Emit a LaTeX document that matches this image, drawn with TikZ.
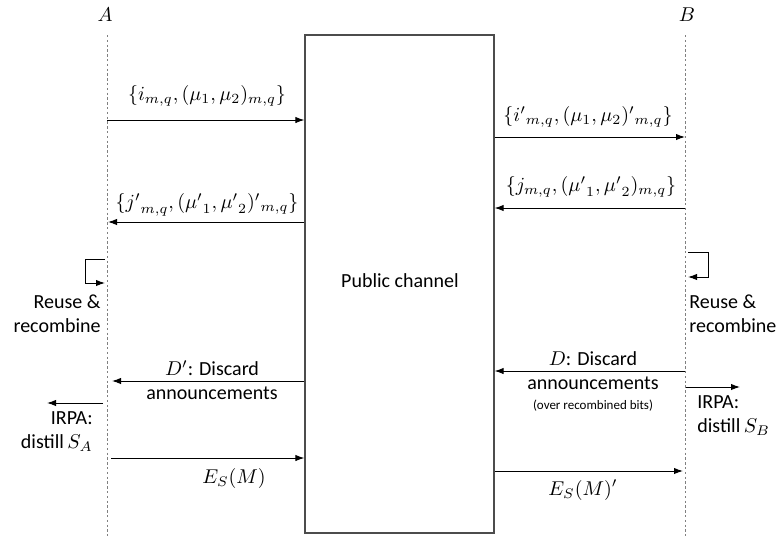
\documentclass[tikz,border=0pt]{standalone}
\usepackage{fontspec}
\setmainfont{Carlito}
\usetikzlibrary{arrows.meta}
\begin{document}
\begin{tikzpicture}[x=0.5pt,y=-0.5pt,
  font=\fontsize{10}{12}\selectfont,
  life/.style={draw=black!50,line width=0.5pt,dash pattern=on 1.2pt off 1.2pt},
  msg/.style={draw=black,line width=0.5pt,-{Latex[length=4.5pt,width=3.2pt]}},
  lbl/.style={inner sep=0pt,align=center},
  chan/.style={draw=black!70,line width=0.6pt,minimum width=94.5pt,minimum height=249pt,inner sep=0pt}]
\useasboundingbox (0,0) rectangle (777,536);
% lifelines
\node[lbl] (A) at (105,15) {$A$};
\node[lbl] (B) at (687,15) {$B$};
\coordinate (At) at (107,35); \coordinate (Ab) at (107,536);
\coordinate (Bt) at (685,35); \coordinate (Bb) at (685,536);
\draw[life] (At) -- (Ab);
\draw[life] (Bt) -- (Bb);
% public channel
\node[chan] (pc) at (399.5,284) {};
\node[lbl] (pct) at (400,281) {Public channel};
% message 1
\coordinate (a1) at (107,120);
\draw[msg] (a1) -- (pc.west |- a1);
\node[lbl] (l1) at (207,96) {$\{i_{m,q},(\mu_1,\mu_2)_{m,q}\}$};
% message 2
\coordinate (b2) at (685,137);
\draw[msg] (pc.east |- b2) -- (b2);
\node[lbl] (l2) at (588,117) {$\{{i'}_{m,q},(\mu_1,\mu_2)'{}_{m,q}\}$};
% message 3
\coordinate (b3) at (685,208);
\draw[msg] (b3) -- (pc.east |- b3);
\node[lbl] (l3) at (591,187) {$\{j_{m,q},({\mu'}_1,{\mu'}_2)_{m,q}\}$};
% message 4
\coordinate (a4) at (108,222);
\draw[msg] (pc.west |- a4) -- (a4);
\node[lbl] (l4) at (207,205) {$\{{j'}_{m,q},({\mu'}_1,{\mu'}_2)'{}_{m,q}\}$};
% reuse loops
\coordinate (la1) at (105,259); \coordinate (la2) at (105,283);
\draw[line width=0.5pt] (la1) -- ++(-20,0) coordinate (la3);
\draw[msg] (la3) |- (la2);
\node[lbl,align=right,anchor=east] (ra) at (101,313.5) {Reuse \&\\recombine};
\coordinate (rb1) at (688,252); \coordinate (rb2) at (688,277);
\draw[line width=0.5pt] (rb1) -- ++(20,0) coordinate (rb3);
\draw[msg] (rb3) |- (rb2);
\node[lbl,align=left,anchor=west] (rb) at (689,314) {Reuse \&\\recombine};
% D' discard
\coordinate (a5) at (112,381);
\draw[msg] (pc.west |- a5) -- (a5);
\node[lbl] (l5) at (212,380.5) {$D'$: Discard\\announcements};
% D discard
\coordinate (b5) at (685,371);
\draw[msg] (b5) -- (pc.east |- b5);
\node[lbl,anchor=north] (l5b) at (593,351) {$D$: Discard\\announcements\\[-2pt]{\fontsize{6.5}{8}\selectfont (over recombined bits)}};
% IRPA
\coordinate (ia1) at (103,403); \coordinate (ia2) at (47,403);
\draw[msg] (ia1) -- (ia2);
\node[lbl,align=right,anchor=east] (ia) at (93,431.5) {IRPA:\\distill\,$S_A$};
\coordinate (ib1) at (686,387); \coordinate (ib2) at (740,387);
\draw[msg] (ib1) -- (ib2);
\node[lbl,align=left,anchor=west] (ib) at (697,415.5) {IRPA:\\distill\,$S_B$};
% E_S(M)
\coordinate (a6) at (111,458);
\draw[msg] (a6) -- (pc.west |- a6);
\node[lbl] (l6) at (234,478) {$E_S(M)$};
\coordinate (b6) at (683,471);
\draw[msg] (pc.east |- b6) -- (b6);
\node[lbl] (l7) at (583,490) {$E_S(M)'$};
\end{tikzpicture}
\end{document}
